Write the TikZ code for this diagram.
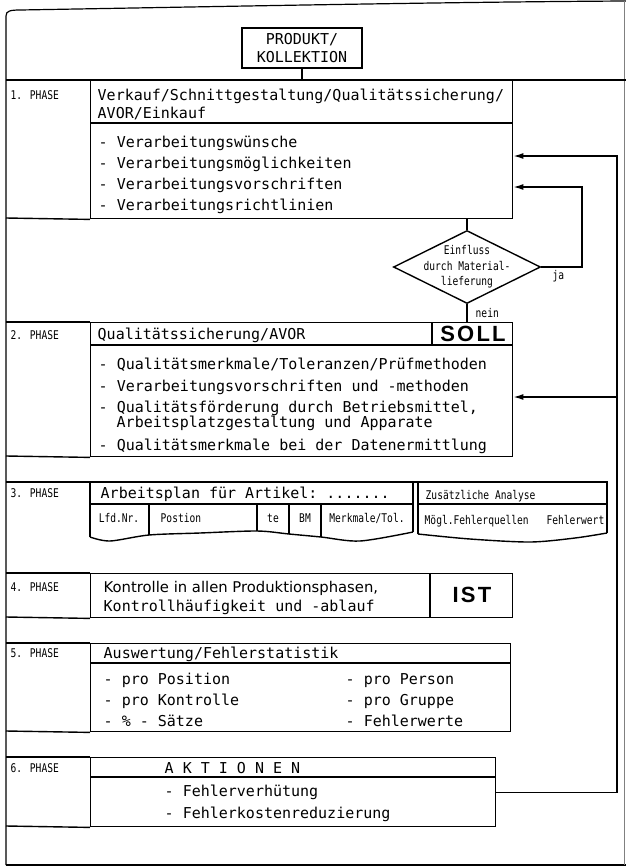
\documentclass[tikz,border=0pt]{standalone}
\usepackage{fontspec}
\setmonofont{DejaVu Sans Mono}
\newfontfamily\plotfont[FakeStretch=0.8]{DejaVu Sans Mono}
\newfontfamily\propfont{DejaVu Sans}
\newfontfamily\stampfont[LetterSpace=10]{Liberation Sans}
\usetikzlibrary{shapes.geometric, arrows.meta, positioning}

\begin{document}
\begin{tikzpicture}[
    x=1pt, y=-1pt,
    line width=1.4pt,
    >={Latex[length=10pt,width=6pt]},
    pbox/.style     ={draw, rectangle, inner sep=0, anchor=north west},
    decision/.style ={draw, diamond, inner sep=0, minimum width=147, minimum height=73},
    typed/.style    ={font=\ttfamily\fontsize{15}{18}\selectfont, inner sep=0, anchor=base west},
    lettering/.style={font=\plotfont\fontsize{12}{15.5}\selectfont, inner sep=0},
    phase/.style    ={lettering, anchor=base west},
    stamp/.style    ={font=\stampfont\bfseries\fontsize{22}{22}\selectfont, inner sep=0},
    flow/.style     ={->}
]
\fill[white] (0,0) rectangle (626,868);
\useasboundingbox (0,0) rectangle (626,868);

% Sheet frame
\draw[line width=1.2pt] (6,865) -- (6,16) .. controls (6,11) and (10,10) .. (20,10)
    .. controls (250,6) and (450,2) .. (626,1);
\draw[line width=1.2pt] (6,865) -- (626,865);
\draw[line width=0.6pt, black!50] (624.5,1) -- (624.5,865);

% Top: product
\node[pbox, anchor=center, minimum width=120, minimum height=40, align=center,
      font=\ttfamily\fontsize{15}{18}\selectfont] (prod) at (302,48) {PRODUKT/\\KOLLEKTION};

% 1. Phase
\draw (6,80) -- (626,80);
\node[pbox, minimum width=422, minimum height=138] (p1box) at (90,80) {};
\draw (6,218) -- (p1box.south west);
\draw (90,123) -- (512,123);
\node[phase] (p1lab) at (10,99) {1. PHASE};
\node[typed] (p1h1) at (97,100) {Verkauf/Schnittgestaltung/Qualitätssicherung/};
\node[typed] (p1h2) at (97,118) {AVOR/Einkauf};
\foreach \t [count=\i from 0] in {Verarbeitungswünsche, Verarbeitungsmöglichkeiten,
    Verarbeitungsvorschriften, Verarbeitungsrichtlinien}
  \node[typed] (p1i\i) at (98,147+21*\i) {- \t};

% Decision: material
\node[decision] (dia) at (467,267) {};
\node[lettering, align=center] (diatext) at (dia.center) {Einfluss\\durch Material-\\lieferung};
\coordinate (jaturn) at (582,187);
\node[lettering, anchor=west] (ja) at (552,276) {ja};
\node[lettering, anchor=west] (nein) at (475,313) {nein};

% 2. Phase
\draw (6,322) -- (90,322);
\node[pbox, minimum width=422, minimum height=134] (p2box) at (90,322) {};
\draw (6,456) -- (p2box.south west);
\draw (90,345) -- (512,345);
\draw (432,322) -- (432,345);
\node[phase] (p2lab) at (10,339) {2. PHASE};
\node[typed] (p2h) at (97,339) {Qualitätssicherung/AVOR};
\node[stamp] (soll) at (473,334) {SOLL};
\node[typed] (p2i1) at (98,369) {- Qualitätsmerkmale/Toleranzen/Prüfmethoden};
\node[typed] (p2i2) at (98,391) {- Verarbeitungsvorschriften und -methoden};
\node[typed] (p2i3) at (98,412) {- Qualitätsförderung durch Betriebsmittel,};
\node[typed] (p2i4) at (116,427) {Arbeitsplatzgestaltung und Apparate};
\node[typed] (p2i5) at (98,450) {- Qualitätsmerkmale bei der Datenermittlung};

% 3. Phase: work plan with torn-off bottom
\draw (6,482) -- (607,482);
\draw (90,537) -- (90,482) -- (413,482) -- (413,532);
\draw plot[smooth] coordinates {(90,537) (110,541) (149,535) (200,533) (257,531)
    (289,534) (321,537) (360,541) (413,532)};
\draw (90,504) -- (413,504);
\foreach \x/\y in {149/535, 257/531, 289/534, 321/537}
  \draw (\x,504) -- (\x,\y);
\draw (418,534) -- (418,482) -- (607,482) -- (607,533);
\draw plot[smooth] coordinates {(418,534) (470,539) (530,542) (575,538) (607,533)};
\draw (418,504) -- (607,504);
\node[phase] (p3lab) at (10,497) {3. PHASE};
\node[typed] (p3h) at (100,498) {Arbeitsplan für Artikel: .......};
\node[lettering, anchor=base] (lfd) at (119,522) {Lfd.Nr.};
\node[lettering, anchor=base west] (pos) at (160,522) {Postion};
\node[lettering, anchor=base] (te) at (273,522) {te};
\node[lettering, anchor=base] (bm) at (305,522) {BM};
\node[lettering, anchor=base] (merk) at (367,522) {Merkmale/Tol.};
\node[lettering, anchor=base west] (zus) at (425,499) {Zusätzliche Analyse};
\node[lettering, anchor=base west] (quel) at (424,524) {Mögl.Fehlerquellen};
\node[lettering, anchor=base east] (fwert) at (605,524) {Fehlerwert};

% 4. Phase
\draw (6,573) -- (90,573);
\node[pbox, minimum width=422, minimum height=44] (p4box) at (90,573) {};
\draw (6,617) -- (p4box.south west);
\draw (430,573) -- (430,617);
\node[phase] (p4lab) at (10,591) {4. PHASE};
\node[typed, font=\propfont\fontsize{14.8}{18}\selectfont] (p4a) at (103,592)
    {Kontrolle in allen Produktionsphasen,};
\node[typed] (p4b) at (103,611) {Kontrollhäufigkeit und -ablauf};
\node[stamp] (ist) at (472,595) {IST};

% 5. Phase
\draw (6,643) -- (90,643);
\node[pbox, minimum width=420, minimum height=88] (p5box) at (90,643) {};
\draw (6,731) -- (p5box.south west);
\draw (90,663) -- (510,663);
\node[phase] (p5lab) at (10,657) {5. PHASE};
\node[typed] (p5h) at (103,658) {Auswertung/Fehlerstatistik};
\node[typed] (p5l1) at (103,684) {- pro Position};
\node[typed] (p5l2) at (103,705) {- pro Kontrolle};
\node[typed] (p5l3) at (103,726) {- \% - Sätze};
\node[typed] (p5r1) at (345,684) {- pro Person};
\node[typed] (p5r2) at (345,705) {- pro Gruppe};
\node[typed] (p5r3) at (345,726) {- Fehlerwerte};

% 6. Phase
\draw (6,757) -- (90,757);
\node[pbox, minimum width=405, minimum height=69] (p6box) at (90,757) {};
\draw (6,826) -- (p6box.south west);
\draw (90,777) -- (495,777);
\node[phase] (p6lab) at (10,772) {6. PHASE};
\node[typed] (p6h) at (164,773) {A K T I O N E N};
\node[typed] (p6a) at (164,796) {- Fehlerverhütung};
\node[typed] (p6b) at (164,818) {- Fehlerkostenreduzierung};

% --- Arrows ---
\draw (prod.south) -- (prod.south |- p1box.north);
\draw (p1box.south -| dia.north) -- (dia.north);
\draw[flow] (dia.east) -| (jaturn) -- (jaturn -| p1box.east);
\draw (dia.south) -- (dia.south |- p2box.north);

% Feedback from actions
\coordinate (looptop) at (617,156);
\coordinate (loopmid) at (617,397);
\draw[flow] (p6box.east) -| (looptop) -- (looptop -| p1box.east);
\draw[flow] (loopmid) -- (loopmid -| p2box.east);

\end{tikzpicture}
\end{document}
